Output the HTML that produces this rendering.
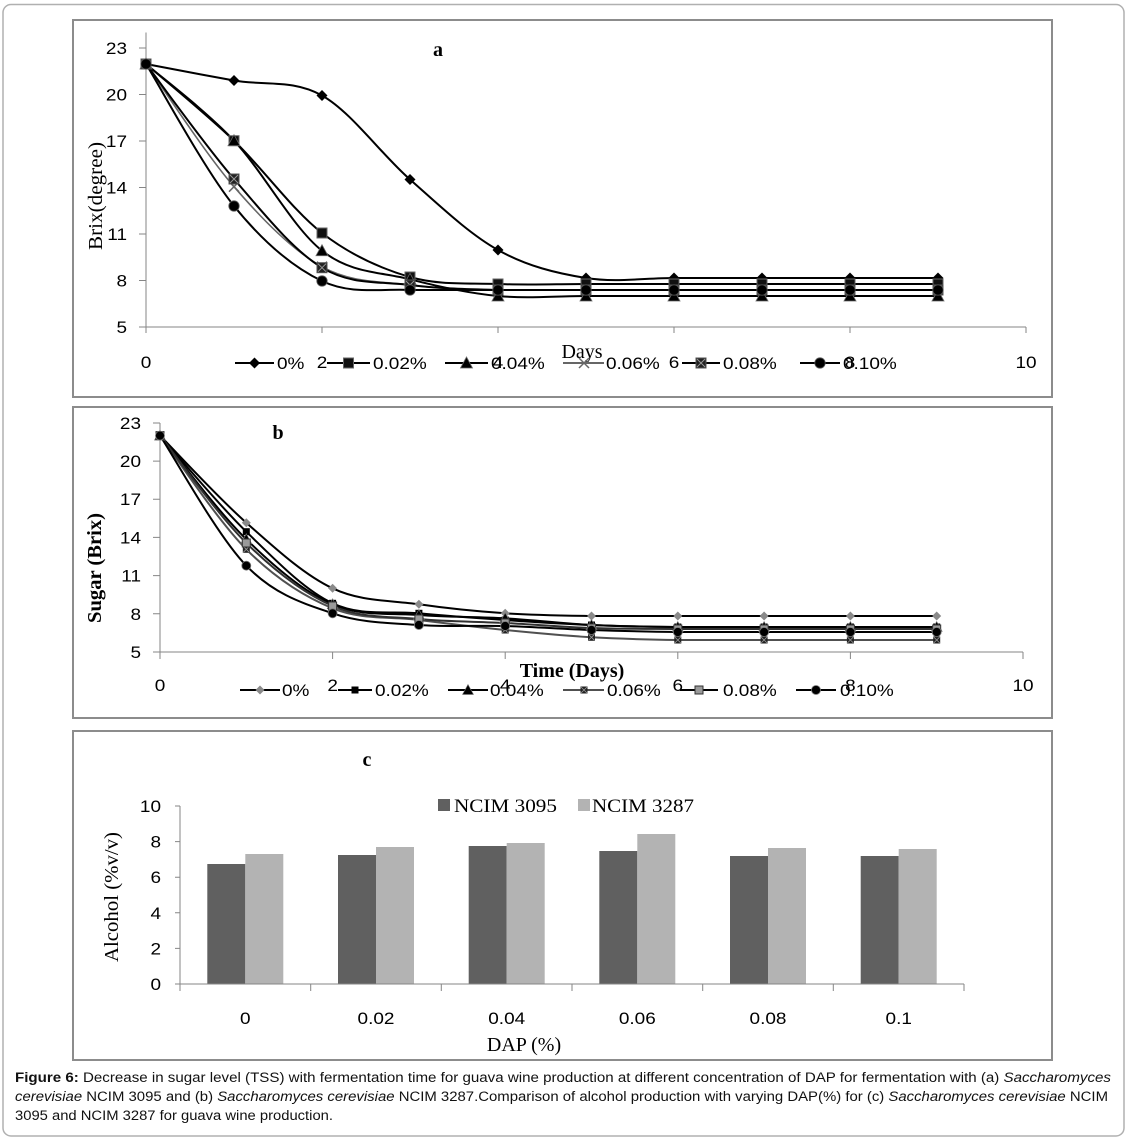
<!DOCTYPE html>
<html>
<head>
<meta charset="utf-8">
<style>
html,body{margin:0;padding:0;background:#fff;}
svg{display:block;}
.t{font-family:"Liberation Sans",Arial,sans-serif;font-size:16.5px;fill:#000;}
.s{font-family:"Liberation Serif","Times New Roman",serif;fill:#000;}
.cap{font-family:"Liberation Sans",Arial,sans-serif;font-size:13.5px;fill:#111;white-space:pre;}
</style>
</head>
<body>
<svg width="1128" height="1141" viewBox="0 0 1128 1141" xmlns="http://www.w3.org/2000/svg">
<defs>
  <polygon id="dA" points="0,-5.5 5.5,0 0,5.5 -5.5,0" fill="#000"/>
  <rect id="sA" x="-5" y="-5" width="10" height="10" fill="#111" stroke="#666" stroke-width="1"/>
  <polygon id="tA" points="0,-6 6,5 -6,5" fill="#000" stroke="#666" stroke-width="0.8"/>
  <path id="xA" d="M-5,-5 L5,5 M-5,5 L5,-5" stroke="#666" stroke-width="1.5" fill="none"/>
  <g id="qA"><rect x="-5" y="-5" width="10" height="10" fill="#222" stroke="#555" stroke-width="1"/><path d="M-4,-4 L4,4 M-4,4 L4,-4" stroke="#999" stroke-width="1"/></g>
  <circle id="cA" r="5.2" fill="#000" stroke="#555" stroke-width="0.8"/>

  <polygon id="dB" points="0,-4.5 4.5,0 0,4.5 -4.5,0" fill="#8a8a8a"/>
  <rect id="sB" x="-3.5" y="-3.5" width="7" height="7" fill="#000"/>
  <polygon id="tB" points="0,-5.5 5.5,4.5 -5.5,4.5" fill="#000" stroke="#777" stroke-width="0.6"/>
  <g id="xB"><rect x="-3.5" y="-3.5" width="7" height="7" fill="#222"/><path d="M-3,-3 L3,3 M-3,3 L3,-3" stroke="#999" stroke-width="0.8"/></g>
  <rect id="qB" x="-4" y="-4" width="8" height="8" fill="#9a9a9a" stroke="#333" stroke-width="1"/>
  <circle id="cB" r="4.5" fill="#000" stroke="#777" stroke-width="0.8"/>
</defs>

<!-- outer border -->
<rect x="3" y="4.5" width="1121" height="1131.5" rx="8" ry="8" fill="none" stroke="#b0b0b0" stroke-width="1.5"/>

<!-- ================= PANEL A ================= -->
<rect x="73" y="20" width="979" height="377" fill="#fff" stroke="#8c8c8c" stroke-width="2"/>
<g stroke="#868686" stroke-width="1" fill="none">
  <path d="M146,32.5 V333"/>
  <path d="M139,48 H146 M139,94.5 H146 M139,141 H146 M139,187.5 H146 M139,234 H146 M139,280.5 H146 M139,327 H146"/>
  <path d="M146,327 H1026"/>
  <path d="M322,327 V333 M498,327 V333 M674,327 V333 M850,327 V333 M1026,327 V333"/>
</g>
<g class="t" text-anchor="end">
  <text transform="translate(127,54) scale(1.15,1)">23</text>
  <text transform="translate(127,100.5) scale(1.15,1)">20</text>
  <text transform="translate(127,147) scale(1.15,1)">17</text>
  <text transform="translate(127,193.5) scale(1.15,1)">14</text>
  <text transform="translate(127,240) scale(1.15,1)">11</text>
  <text transform="translate(127,286.5) scale(1.15,1)">8</text>
  <text transform="translate(127,333) scale(1.15,1)">5</text>
</g>
<g class="t" text-anchor="middle">
  <text transform="translate(146,368) scale(1.15,1)">0</text>
  <text transform="translate(322,368) scale(1.15,1)">2</text>
  <text transform="translate(498,368) scale(1.15,1)">4</text>
  <text transform="translate(674,368) scale(1.15,1)">6</text>
  <text transform="translate(850,368) scale(1.15,1)">8</text>
  <text transform="translate(1026,368) scale(1.15,1)">10</text>
</g>
<text class="s" x="438" y="56" font-size="20" font-weight="bold" text-anchor="middle">a</text>
<text class="s" x="582" y="358" font-size="20" text-anchor="middle">Days</text>
<text class="s" font-size="20" text-anchor="middle" transform="translate(102,196) rotate(-90)" textLength="108" lengthAdjust="spacingAndGlyphs">Brix(degree)</text>

<g fill="none" stroke-width="2" stroke-linejoin="round">
  <path stroke="#000" d="M146,64 C160.7,66.75 204.7,75.25 234,80.5 C263.3,85.75 292.7,79 322,95.5 C351.3,112 380.7,153.75 410,179.5 C439.3,205.25 468.7,233.6 498,250 C527.3,266.4 556.7,273.3 586,278 C615.3,282.7 644.7,278 674,278 L938,278"/>
  <path stroke="#000" d="M146,64 C160.7,76.8 204.7,112.5 234,140.7 C263.3,168.9 292.7,210.3 322,233 C351.3,255.7 380.7,268.5 410,277 C439.3,285.5 468.7,282.8 498,284 C527.3,285.2 556.7,284 586,284 L938,284"/>
  <path stroke="#000" d="M146,64 C160.7,76.8 204.7,109.6 234,140.7 C263.3,171.8 292.7,227.6 322,250.7 C351.3,273.8 380.7,271.75 410,279.3 C439.3,286.85 468.7,293.2 498,296 C527.3,298.8 556.7,296 586,296 L938,296"/>
  <path stroke="#666" stroke-width="1.6" d="M146,64 C160.7,84.45 204.7,152.9 234,186.7 C263.3,220.5 292.7,250.3 322,266.7 C351.3,283.1 380.7,281.1 410,285 C439.3,288.9 468.7,289.2 498,290 L938,290"/>
  <path stroke="#000" d="M146,64 C160.7,83.2 204.7,145.05 234,179 C263.3,212.95 292.7,250 322,267.7 C351.3,285.4 380.7,281.3 410,285 C439.3,288.7 468.7,289.2 498,290 L938,290"/>
  <path stroke="#000" d="M146,64 C160.7,87.7 204.7,169.8 234,206 C263.3,242.2 292.7,267 322,281 C351.3,295 380.7,288.5 410,290 L938,290"/>
</g>
<!-- markers a -->
<g>
  <use href="#dA" x="146" y="64"/><use href="#dA" x="234" y="80.5"/><use href="#dA" x="322" y="95.5"/><use href="#dA" x="410" y="179.5"/><use href="#dA" x="498" y="250"/><use href="#dA" x="586" y="278"/><use href="#dA" x="674" y="278"/><use href="#dA" x="762" y="278"/><use href="#dA" x="850" y="278"/><use href="#dA" x="938" y="278"/>
  <use href="#sA" x="146" y="64"/><use href="#sA" x="234" y="140.7"/><use href="#sA" x="322" y="233"/><use href="#sA" x="410" y="277"/><use href="#sA" x="498" y="284"/><use href="#sA" x="586" y="284"/><use href="#sA" x="674" y="284"/><use href="#sA" x="762" y="284"/><use href="#sA" x="850" y="284"/><use href="#sA" x="938" y="284"/>
  <use href="#tA" x="146" y="64"/><use href="#tA" x="234" y="140.7"/><use href="#tA" x="322" y="250.7"/><use href="#tA" x="410" y="279.3"/><use href="#tA" x="498" y="296"/><use href="#tA" x="586" y="296"/><use href="#tA" x="674" y="296"/><use href="#tA" x="762" y="296"/><use href="#tA" x="850" y="296"/><use href="#tA" x="938" y="296"/>
  <use href="#xA" x="146" y="64"/><use href="#xA" x="234" y="186.7"/><use href="#xA" x="322" y="266.7"/><use href="#xA" x="410" y="285"/><use href="#xA" x="498" y="290"/><use href="#xA" x="586" y="290"/><use href="#xA" x="674" y="290"/><use href="#xA" x="762" y="290"/><use href="#xA" x="850" y="290"/><use href="#xA" x="938" y="290"/>
  <use href="#qA" x="146" y="64"/><use href="#qA" x="234" y="179"/><use href="#qA" x="322" y="267.7"/><use href="#qA" x="410" y="285"/><use href="#qA" x="498" y="290"/><use href="#qA" x="586" y="290"/><use href="#qA" x="674" y="290"/><use href="#qA" x="762" y="290"/><use href="#qA" x="850" y="290"/><use href="#qA" x="938" y="290"/>
  <use href="#cA" x="146" y="64"/><use href="#cA" x="234" y="206"/><use href="#cA" x="322" y="281"/><use href="#cA" x="410" y="290"/><use href="#cA" x="498" y="290"/><use href="#cA" x="586" y="290"/><use href="#cA" x="674" y="290"/><use href="#cA" x="762" y="290"/><use href="#cA" x="850" y="290"/><use href="#cA" x="938" y="290"/>
</g>
<!-- legend a -->
<g stroke-width="2">
  <path d="M235,363 H274" stroke="#000"/><use href="#dA" x="254.5" y="363"/>
  <path d="M327,363 H370" stroke="#000"/><use href="#sA" x="348.5" y="363"/>
  <path d="M445,363 H488" stroke="#000"/><use href="#tA" x="466.5" y="363"/>
  <path d="M563,363 H604" stroke="#666"/><use href="#xA" x="584" y="363"/>
  <path d="M682,363 H720" stroke="#000"/><use href="#qA" x="701" y="363"/>
  <path d="M800,363 H840" stroke="#000"/><use href="#cA" x="820" y="363"/>
</g>
<g class="t">
  <text transform="translate(277,369) scale(1.15,1)">0%</text>
  <text transform="translate(373,369) scale(1.15,1)">0.02%</text>
  <text transform="translate(491,369) scale(1.15,1)">0.04%</text>
  <text transform="translate(606,369) scale(1.15,1)">0.06%</text>
  <text transform="translate(723,369) scale(1.15,1)">0.08%</text>
  <text transform="translate(843,369) scale(1.15,1)">0.10%</text>
</g>

<!-- ================= PANEL B ================= -->
<rect x="73" y="407" width="979" height="311" fill="#fff" stroke="#8c8c8c" stroke-width="2"/>
<g stroke="#868686" stroke-width="1" fill="none">
  <path d="M160,423 V659"/>
  <path d="M153,423 H160 M153,461.1 H160 M153,499.2 H160 M153,537.4 H160 M153,575.6 H160 M153,613.8 H160 M153,652 H160"/>
  <path d="M160,652 H1023"/>
  <path d="M332.6,652 V659 M505.2,652 V659 M677.8,652 V659 M850.4,652 V659 M1023,652 V659"/>
</g>
<g class="t" text-anchor="end">
  <text transform="translate(141,429) scale(1.15,1)">23</text>
  <text transform="translate(141,467.1) scale(1.15,1)">20</text>
  <text transform="translate(141,505.2) scale(1.15,1)">17</text>
  <text transform="translate(141,543.4) scale(1.15,1)">14</text>
  <text transform="translate(141,581.6) scale(1.15,1)">11</text>
  <text transform="translate(141,619.8) scale(1.15,1)">8</text>
  <text transform="translate(141,658) scale(1.15,1)">5</text>
</g>
<g class="t" text-anchor="middle">
  <text transform="translate(160,691) scale(1.15,1)">0</text>
  <text transform="translate(332.6,691) scale(1.15,1)">2</text>
  <text transform="translate(505.2,691) scale(1.15,1)">4</text>
  <text transform="translate(677.8,691) scale(1.15,1)">6</text>
  <text transform="translate(850.4,691) scale(1.15,1)">8</text>
  <text transform="translate(1023,691) scale(1.15,1)">10</text>
</g>
<text class="s" x="278" y="439" font-size="20" font-weight="bold" text-anchor="middle">b</text>
<text class="s" x="572" y="677" font-size="20" font-weight="bold" text-anchor="middle">Time (Days)</text>
<text class="s" font-size="20" font-weight="bold" text-anchor="middle" transform="translate(101,568) rotate(-90)" textLength="110" lengthAdjust="spacingAndGlyphs">Sugar (Brix)</text>

<g fill="none" stroke-width="2" stroke-linejoin="round">
  <path stroke="#000" d="M160,435.6 C174.4,450.1 217.5,497.25 246.3,522.7 C275.1,548.15 303.8,574.7 332.6,588.3 C361.4,601.9 390.1,600.1 418.9,604.3 C447.7,608.5 476.4,611.35 505.2,613.3 C534,615.25 562.7,615.55 591.5,616 L936.7,616"/>
  <path stroke="#000" d="M160,435.6 C174.4,451.6 217.5,503.75 246.3,531.7 C275.1,559.65 303.8,589.7 332.6,603.3 C361.4,616.9 390.1,610.5 418.9,613.3 C447.7,616.1 476.4,618.05 505.2,620 C534,621.95 562.7,623.8 591.5,625 C620.3,626.2 649,626.7 677.8,627 L936.7,627"/>
  <path stroke="#000" d="M160,435.6 C174.4,452.9 217.5,511.2 246.3,539.3 C275.1,567.4 303.8,591.7 332.6,604.3 C361.4,616.9 390.1,612.7 418.9,615 C447.7,617.3 476.4,616.6 505.2,618.3 C534,619.97 562.7,623.55 591.5,625 C620.3,626.45 649,626.7 677.8,627 L936.7,627"/>
  <path stroke="#505050" d="M160,435.6 C174.4,454.55 217.5,520.5 246.3,549.3 C275.1,578.1 303.8,596.5 332.6,608.3 C361.4,620.1 390.1,616.4 418.9,620 C447.7,623.6 476.4,627.1 505.2,630 C534,632.9 562.7,635.6 591.5,637.3 C620.3,638.97 649,639.55 677.8,640 L936.7,640"/>
  <path stroke="#303030" d="M160,435.6 C174.4,453.5 217.5,514.6 246.3,543 C275.1,571.4 303.8,593.3 332.6,606 C361.4,618.67 390.1,616.2 418.9,619 C447.7,621.8 476.4,621.5 505.2,623 C534,624.5 562.7,627 591.5,628 C620.3,629 649,628.8 677.8,629 L936.7,629"/>
  <path stroke="#000" d="M160,435.6 C174.4,457.3 217.5,536.1 246.3,565.7 C275.1,595.3 303.8,603.4 332.6,613.3 C361.4,623.2 390.1,622.9 418.9,625 C447.7,627.1 476.4,625.2 505.2,626 C534,626.8 562.7,629 591.5,630 C620.3,631 649,631.7 677.8,632 L936.7,632"/>
</g>
<g>
  <use href="#dB" x="160" y="435.6"/><use href="#dB" x="246.3" y="522.7"/><use href="#dB" x="332.6" y="588.3"/><use href="#dB" x="418.9" y="604.3"/><use href="#dB" x="505.2" y="613.3"/><use href="#dB" x="591.5" y="616"/><use href="#dB" x="677.8" y="616"/><use href="#dB" x="764.1" y="616"/><use href="#dB" x="850.4" y="616"/><use href="#dB" x="936.7" y="616"/>
  <use href="#sB" x="160" y="435.6"/><use href="#sB" x="246.3" y="531.7"/><use href="#sB" x="332.6" y="603.3"/><use href="#sB" x="418.9" y="613.3"/><use href="#sB" x="505.2" y="620"/><use href="#sB" x="591.5" y="625"/><use href="#sB" x="677.8" y="627"/><use href="#sB" x="764.1" y="627"/><use href="#sB" x="850.4" y="627"/><use href="#sB" x="936.7" y="627"/>
  <use href="#tB" x="160" y="435.6"/><use href="#tB" x="246.3" y="539.3"/><use href="#tB" x="332.6" y="604.3"/><use href="#tB" x="418.9" y="615"/><use href="#tB" x="505.2" y="618.3"/><use href="#tB" x="591.5" y="625"/><use href="#tB" x="677.8" y="627"/><use href="#tB" x="764.1" y="627"/><use href="#tB" x="850.4" y="627"/><use href="#tB" x="936.7" y="627"/>
  <use href="#xB" x="160" y="435.6"/><use href="#xB" x="246.3" y="549.3"/><use href="#xB" x="332.6" y="608.3"/><use href="#xB" x="418.9" y="620"/><use href="#xB" x="505.2" y="630"/><use href="#xB" x="591.5" y="637.3"/><use href="#xB" x="677.8" y="640"/><use href="#xB" x="764.1" y="640"/><use href="#xB" x="850.4" y="640"/><use href="#xB" x="936.7" y="640"/>
  <use href="#qB" x="160" y="435.6"/><use href="#qB" x="246.3" y="543"/><use href="#qB" x="332.6" y="606"/><use href="#qB" x="418.9" y="619"/><use href="#qB" x="505.2" y="623"/><use href="#qB" x="591.5" y="628"/><use href="#qB" x="677.8" y="629"/><use href="#qB" x="764.1" y="629"/><use href="#qB" x="850.4" y="629"/><use href="#qB" x="936.7" y="629"/>
  <use href="#cB" x="160" y="435.6"/><use href="#cB" x="246.3" y="565.7"/><use href="#cB" x="332.6" y="613.3"/><use href="#cB" x="418.9" y="625"/><use href="#cB" x="505.2" y="626"/><use href="#cB" x="591.5" y="630"/><use href="#cB" x="677.8" y="632"/><use href="#cB" x="764.1" y="632"/><use href="#cB" x="850.4" y="632"/><use href="#cB" x="936.7" y="632"/>
</g>
<!-- legend b -->
<g stroke-width="2">
  <path d="M240,690 H280" stroke="#000"/><use href="#dB" x="260" y="690"/>
  <path d="M338,690 H372" stroke="#000"/><use href="#sB" x="355" y="690"/>
  <path d="M448,690 H488" stroke="#000"/><use href="#tB" x="468" y="690"/>
  <path d="M563,690 H604" stroke="#505050"/><use href="#xB" x="584" y="690"/>
  <path d="M680,690 H718" stroke="#000"/><use href="#qB" x="699" y="690"/>
  <path d="M796,690 H836" stroke="#000"/><use href="#cB" x="816" y="690"/>
</g>
<g class="t">
  <text transform="translate(282,696) scale(1.15,1)">0%</text>
  <text transform="translate(375,696) scale(1.15,1)">0.02%</text>
  <text transform="translate(490,696) scale(1.15,1)">0.04%</text>
  <text transform="translate(607,696) scale(1.15,1)">0.06%</text>
  <text transform="translate(723,696) scale(1.15,1)">0.08%</text>
  <text transform="translate(840,696) scale(1.15,1)">0.10%</text>
</g>

<!-- ================= PANEL C ================= -->
<rect x="73" y="731" width="979" height="329" fill="#fff" stroke="#8c8c8c" stroke-width="2"/>
<text class="s" x="367" y="766" font-size="20" font-weight="bold" text-anchor="middle">c</text>
<rect x="438" y="799" width="12" height="12" fill="#606060"/>
<text class="s" x="454" y="812" font-size="19" textLength="103" lengthAdjust="spacingAndGlyphs">NCIM 3095</text>
<rect x="578" y="799" width="12" height="12" fill="#b3b3b3"/>
<text class="s" x="592" y="812" font-size="19" textLength="102" lengthAdjust="spacingAndGlyphs">NCIM 3287</text>

<!-- bars -->
<g>
  <rect x="207.3" y="864" width="38" height="120" fill="#606060"/>
  <rect x="245.3" y="854" width="38" height="130" fill="#b3b3b3"/>
  <rect x="338" y="855" width="38" height="129" fill="#606060"/>
  <rect x="376" y="847" width="38" height="137" fill="#b3b3b3"/>
  <rect x="468.7" y="846" width="38" height="138" fill="#606060"/>
  <rect x="506.7" y="843" width="38" height="141" fill="#b3b3b3"/>
  <rect x="599.3" y="851" width="38" height="133" fill="#606060"/>
  <rect x="637.3" y="834" width="38" height="150" fill="#b3b3b3"/>
  <rect x="730" y="856" width="38" height="128" fill="#606060"/>
  <rect x="768" y="848" width="38" height="136" fill="#b3b3b3"/>
  <rect x="860.7" y="856" width="38" height="128" fill="#606060"/>
  <rect x="898.7" y="849" width="38" height="135" fill="#b3b3b3"/>
</g>
<g stroke="#868686" stroke-width="1" fill="none">
  <path d="M180,806 V984"/>
  <path d="M175,806 H180 M175,841.6 H180 M175,877.2 H180 M175,912.8 H180 M175,948.4 H180 M175,984 H180"/>
  <path d="M180,984 H964"/>
  <path d="M180,984 V991 M310.7,984 V991 M441.3,984 V991 M572,984 V991 M702.7,984 V991 M833.3,984 V991 M964,984 V991"/>
</g>
<g class="t" text-anchor="end">
  <text transform="translate(161,812) scale(1.15,1)">10</text>
  <text transform="translate(161,847.6) scale(1.15,1)">8</text>
  <text transform="translate(161,883.2) scale(1.15,1)">6</text>
  <text transform="translate(161,918.8) scale(1.15,1)">4</text>
  <text transform="translate(161,954.4) scale(1.15,1)">2</text>
  <text transform="translate(161,990) scale(1.15,1)">0</text>
</g>
<g class="t" text-anchor="middle">
  <text transform="translate(245.3,1024) scale(1.15,1)">0</text>
  <text transform="translate(376,1024) scale(1.15,1)">0.02</text>
  <text transform="translate(506.7,1024) scale(1.15,1)">0.04</text>
  <text transform="translate(637.3,1024) scale(1.15,1)">0.06</text>
  <text transform="translate(768,1024) scale(1.15,1)">0.08</text>
  <text transform="translate(898.7,1024) scale(1.15,1)">0.1</text>
</g>
<text class="s" x="524" y="1051" font-size="20" text-anchor="middle">DAP (%)</text>
<text class="s" font-size="20" text-anchor="middle" transform="translate(118,897) rotate(-90)" textLength="130" lengthAdjust="spacingAndGlyphs">Alcohol (%v/v)</text>

<!-- ================= CAPTION ================= -->
<text class="cap" x="15" y="1082" textLength="1096" lengthAdjust="spacingAndGlyphs"><tspan font-weight="bold">Figure 6:</tspan><tspan> Decrease in sugar level (TSS) with fermentation time for guava wine production at different concentration of DAP for fermentation with (a) </tspan><tspan font-style="italic">Saccharomyces</tspan></text>
<text class="cap" x="15" y="1101" textLength="1093" lengthAdjust="spacingAndGlyphs"><tspan font-style="italic">cerevisiae</tspan><tspan> NCIM 3095 and (b) </tspan><tspan font-style="italic">Saccharomyces cerevisiae</tspan><tspan> NCIM 3287.Comparison of alcohol production with varying DAP(%) for (c) </tspan><tspan font-style="italic">Saccharomyces cerevisiae</tspan><tspan> NCIM</tspan></text>
<text class="cap" x="15" y="1120" textLength="318" lengthAdjust="spacingAndGlyphs">3095 and NCIM 3287 for guava wine production.</text>
</svg>
</body>
</html>
